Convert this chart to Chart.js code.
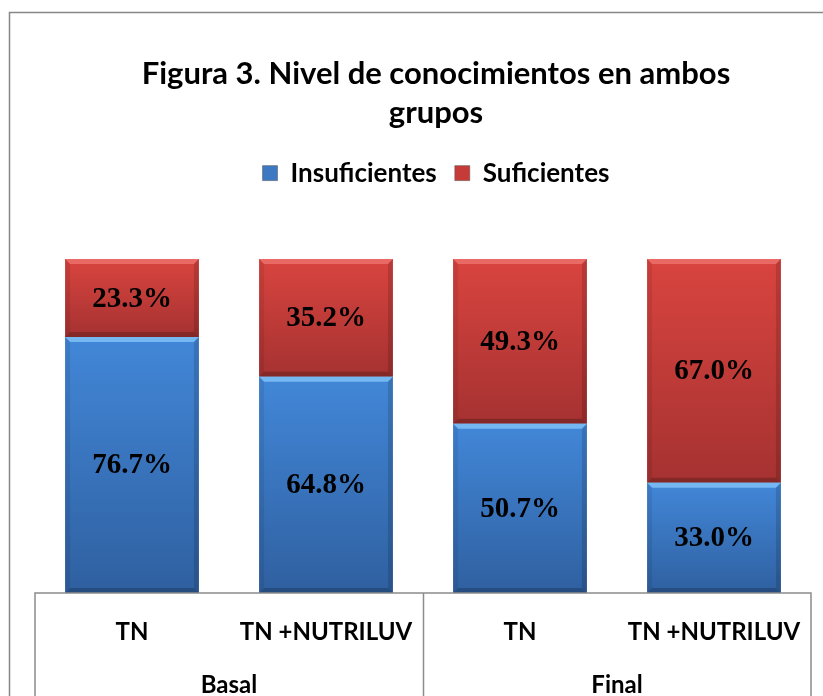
<!DOCTYPE html>
<html>
<head>
<meta charset="utf-8">
<script src="https://cdn.jsdelivr.net/npm/chart.js@4.4.1/dist/chart.umd.min.js"></script>
<style>
  html, body { margin: 0; padding: 0; background: #fff; overflow: hidden; }
  #wrap { width: 872px; height: 696px; }
</style>
</head>
<body>
<div id="wrap"><canvas id="nivelChart" width="872" height="696"></canvas></div>
<script>
// Figura 3 - nivel de conocimientos (porcentajes apilados)
const categories = ["TN", "TN +NUTRILUV", "TN", "TN +NUTRILUV"];
const groups = ["Basal", "Final"];
const insuficientes = [76.7, 64.8, 50.7, 33.0];
const suficientes = [23.3, 35.2, 49.3, 67.0];

const SANS = "Lato, 'Open Sans', sans-serif";

// vertical gradient for one stacked segment
function segmentFill(ctx, topColor, bottomColor) {
  const chart = ctx.chart;
  const y = chart.scales.y;
  if (!chart.chartArea || !y || ctx.dataIndex === undefined) return topColor;
  const i = ctx.dataIndex;
  const lo = ctx.datasetIndex === 0 ? 0 : chart.data.datasets[0].data[i];
  const hi = lo + chart.data.datasets[ctx.datasetIndex].data[i];
  const g = chart.ctx.createLinearGradient(0, y.getPixelForValue(hi), 0, y.getPixelForValue(lo));
  g.addColorStop(0, topColor);
  g.addColorStop(1, bottomColor);
  return g;
}

// outer frame + bottom axis box
const framePlugin = {
  id: "frame",
  beforeDraw(chart) {
    const c = chart.ctx;
    c.save();
    c.fillStyle = "#fff";
    c.fillRect(0, 0, chart.width, chart.height);
    c.strokeStyle = "#878787";
    c.lineWidth = 1.5;
    c.strokeRect(9.5, 12.5, chart.width - 20, chart.height + 20);
    c.restore();
  },
  afterDraw(chart) {
    const c = chart.ctx;
    const a = chart.chartArea;
    const x = chart.scales.x;
    const mid = (x.getPixelForValue(1) + x.getPixelForValue(2)) / 2;
    c.save();
    c.strokeStyle = "#8c8c8c";
    c.lineWidth = 1.5;
    c.beginPath();
    c.moveTo(a.left, chart.height);
    c.lineTo(a.left, a.bottom);
    c.lineTo(a.right, a.bottom);
    c.lineTo(a.right, chart.height);
    c.moveTo(Math.round(mid) + 0.5, a.bottom);
    c.lineTo(Math.round(mid) + 0.5, chart.height);
    c.stroke();
    c.restore();
  }
};

// bevel look + value labels
const barDecor = {
  id: "barDecor",
  afterDatasetsDraw(chart) {
    const c = chart.ctx;
    const light = ["rgba(130,195,248,0.8)", "rgba(238,115,110,0.8)"];
    chart.data.datasets.forEach((ds, di) => {
      const meta = chart.getDatasetMeta(di);
      meta.data.forEach((el, i) => {
        const p = el.getProps(["x", "y", "base", "width"], true);
        const l = p.x - p.width / 2, r = p.x + p.width / 2;
        const t = Math.min(p.y, p.base), b = Math.max(p.y, p.base);
        const e = 5;
        c.save();
        // top highlight
        c.fillStyle = light[di];
        c.beginPath();
        c.moveTo(l, t); c.lineTo(r, t); c.lineTo(r - e, t + e); c.lineTo(l + e, t + e);
        c.closePath(); c.fill();
        // sides
        c.fillStyle = "rgba(0,0,0,0.08)";
        c.beginPath();
        c.moveTo(l, t); c.lineTo(l + e, t + e); c.lineTo(l + e, b - e); c.lineTo(l, b);
        c.closePath(); c.fill();
        c.fillStyle = "rgba(0,0,0,0.14)";
        c.beginPath();
        c.moveTo(r, t); c.lineTo(r - e, t + e); c.lineTo(r - e, b - e); c.lineTo(r, b);
        c.closePath(); c.fill();
        // bottom
        c.fillStyle = "rgba(0,0,0,0.2)";
        c.beginPath();
        c.moveTo(l, b); c.lineTo(l + e, b - e); c.lineTo(r - e, b - e); c.lineTo(r, b);
        c.closePath(); c.fill();
        // value
        c.fillStyle = "#000";
        c.font = "bold 29px 'Liberation Serif', 'Times New Roman', serif";
        c.textAlign = "center";
        c.textBaseline = "middle";
        c.fillText(ds.data[i].toFixed(1) + "%", p.x, (t + b) / 2 + 1);
        c.restore();
      });
    });
  }
};

new Chart(document.getElementById("nivelChart"), {
  type: "bar",
  data: {
    labels: categories,
    datasets: [
      {
        label: "Insuficientes",
        data: insuficientes,
        backgroundColor: ctx => segmentFill(ctx, "#4287d8", "#2f60a0"),
        borderWidth: 0,
        barPercentage: 0.69,
        categoryPercentage: 1
      },
      {
        label: "Suficientes",
        data: suficientes,
        backgroundColor: ctx => segmentFill(ctx, "#d9443f", "#a53231"),
        borderWidth: 0,
        barPercentage: 0.69,
        categoryPercentage: 1
      }
    ]
  },
  options: {
    responsive: false,
    animation: false,
    devicePixelRatio: 1,
    layout: { padding: 0 },
    plugins: {
      title: {
        display: true,
        text: ["Figura 3. Nivel de conocimientos en ambos", "grupos"],
        color: "#000",
        font: { family: SANS, size: 31, weight: "bold", lineHeight: 1.26 },
        padding: { top: 54, bottom: 10 }
      },
      legend: {
        position: "top",
        labels: {
          color: "#000",
          font: { family: SANS, size: 26, weight: "bold" },
          boxWidth: 15,
          boxHeight: 15,
          padding: 18,
          generateLabels(chart) {
            const cols = ["#3d78c2", "#c63b38"];
            return chart.data.datasets.map((ds, i) => ({
              text: ds.label,
              fillStyle: cols[i],
              strokeStyle: "#555",
              lineWidth: 0.5,
              datasetIndex: i,
              hidden: false
            }));
          }
        }
      },
      subtitle: {
        // empty spacer between legend and plot
        display: true,
        text: "",
        weight: 500,
        font: { size: 10 },
        padding: { top: 0, bottom: 51 }
      },
      tooltip: { enabled: false }
    },
    scales: {
      x: {
        stacked: true,
        weight: 0,
        grid: { display: false, drawTicks: false },
        border: { display: false },
        ticks: {
          color: "#000",
          font: { family: SANS, size: 24, weight: "bold" },
          padding: 25,
          autoSkip: false,
          maxRotation: 0
        },
        afterFit(s) { s.height = 60; }
      },
      group: {
        type: "category",
        labels: groups,
        position: "bottom",
        offset: true,
        weight: 1,
        grid: { display: false, drawTicks: false },
        border: { display: false },
        ticks: {
          color: "#000",
          font: { family: SANS, size: 24, weight: "bold" },
          padding: 18,
          maxRotation: 0
        },
        afterFit(s) { s.height = 43; }
      },
      y: {
        stacked: true,
        min: 0,
        max: 100,
        position: "left",
        grid: { display: false, drawTicks: false },
        border: { display: false },
        ticks: { display: false },
        afterFit(s) { s.width = 35; }
      },
      yr: {
        type: "linear",
        position: "right",
        grid: { display: false, drawTicks: false },
        border: { display: false },
        ticks: { display: false },
        afterFit(s) { s.width = 61; }
      }
    }
  },
  plugins: [framePlugin, barDecor]
});
</script>
</body>
</html>
